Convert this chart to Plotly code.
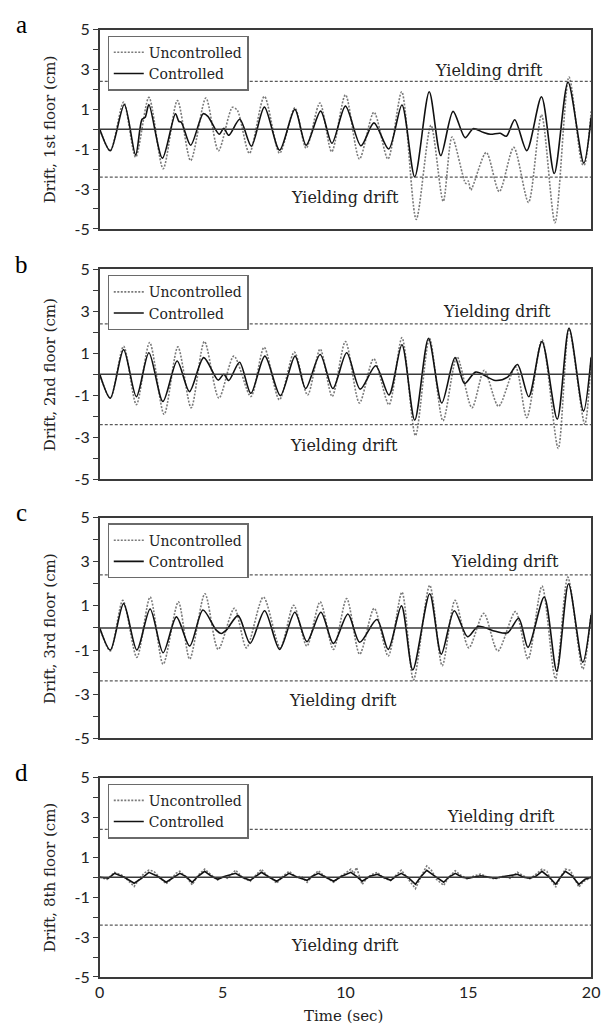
import plotly.graph_objects as go

# ---------------- data: inter-storey drift (cm) vs time (s) ----------------
YIELD_DRIFT = 2.4
PANEL_LETTERS = ["a", "b", "c", "d"]
FLOOR_TITLES = ["Drift, 1st floor (cm)", "Drift, 2nd floor (cm)",
                "Drift, 3rd floor (cm)", "Drift, 8th floor (cm)"]
SERIES_NAMES = ["Uncontrolled", "Controlled"]
X_TICKS = [0, 5, 10, 15, 20]
Y_TICK_LABELS = ["-5", "-3", "-1", "1", "3", "5"]

# 1st floor
t1_unc = [0, 0.43, 0.97, 1.46, 2.0, 2.58, 3.16, 3.70, 4.32, 4.83, 5.40, 5.60, 6.09, 6.70,
          7.32, 7.94, 8.40, 8.96, 9.44, 10.0, 10.57, 11.16, 11.73, 12.29, 12.88, 13.48,
          13.98, 14.34, 14.90, 15.00, 15.10, 15.73, 16.26, 16.85, 17.45, 17.98, 18.53,
          19.10, 19.63, 19.72, 20.0]
d1_unc = [0, -1.08, 1.36, -1.40, 1.60, -1.98, 1.44, -1.57, 1.57, -1.08, 1.10, 0.95, -1.21,
          1.65, -1.20, 1.08, -0.95, 1.32, -1.13, 1.73, -1.49, 0.86, -1.49, 1.88, -4.52, 0.20,
          -3.62, -0.39, -2.72, -2.60, -3.05, -1.16, -3.13, -0.91, -3.67, 0.73, -4.69,
          2.62, -1.73, -1.80, 0.9]
t1_con = [0, 0.43, 1.0, 1.46, 1.72, 1.85, 2.0, 2.55, 3.08, 3.22, 3.32, 3.70, 4.21, 4.40,
          4.86, 5.05, 5.25, 5.70, 6.17, 6.70, 7.32, 7.94, 8.40, 8.99, 9.45, 10.0, 10.63,
          11.16, 11.76, 12.30, 12.82, 13.41, 13.88, 14.38, 14.87, 15.2, 15.6, 15.9, 16.3,
          16.55, 16.89, 17.38, 17.98, 18.50, 19.06, 19.70, 20.0]
d1_con = [0, -1.08, 1.24, -1.29, 0.50, 0.60, 1.24, -1.45, 0.78, 0.40, 0.35, -0.80, 0.78,
          0.65, -0.25, 0.05, -0.30, 0.50, -0.85, 1.11, -1.05, 1.00, -0.80, 0.91, -0.70,
          1.16, -0.83, 0.32, -0.99, 1.22, -2.39, 1.88, -1.32, 0.90, -0.42, 0.03, -0.15,
          -0.25, -0.20, -0.35, 0.48, -1.07, 1.63, -2.22, 2.37, -1.70, 0.6]

# 2nd floor
t2_unc = [0, 0.43, 0.97, 1.49, 2.03, 2.62, 3.18, 3.72, 4.26, 4.85, 5.46, 6.15, 6.69, 7.31,
          7.92, 8.46, 8.97, 9.46, 10.0, 10.57, 11.15, 11.77, 12.30, 12.85, 13.42, 13.97,
          14.54, 15.15, 15.65, 16.23, 16.92, 17.38, 18.0, 18.66, 19.10, 19.74, 20.0]
d2_unc = [0, -1.14, 1.33, -1.45, 1.51, -1.91, 1.30, -1.60, 1.56, -1.14, 0.86, -1.06, 1.28,
          -1.22, 1.05, -0.99, 1.20, -1.06, 1.56, -1.37, 0.74, -1.45, 1.74, -2.92, 1.71,
          -2.22, 0.82, -1.60, 0.19, -1.53, 0.35, -2.07, 1.64, -3.53, 2.15, -2.38, 0.86]
t2_con = [0, 0.43, 0.97, 1.49, 2.0, 2.57, 3.15, 3.65, 4.23, 4.82, 5.05, 5.25, 5.69, 6.15,
          6.72, 7.35, 7.95, 8.38, 8.97, 9.49, 10.05, 10.6, 11.23, 11.77, 12.30, 12.82,
          13.38, 13.92, 14.46, 14.85, 15.3, 16.1, 16.6, 17.0, 17.46, 18.0, 18.62, 19.10,
          19.69, 20.0]
d2_con = [0, -1.14, 1.17, -1.07, 1.02, -1.30, 0.63, -0.83, 0.79, -0.28, 0.0, -0.30, 0.57,
          -0.91, 0.86, -1.02, 0.86, -0.68, 0.94, -0.68, 1.02, -0.71, 0.40, -0.99, 1.40,
          -2.19, 1.71, -1.37, 0.79, -0.45, 0.10, -0.30, -0.14, 0.46, -1.07, 1.56, -2.14,
          2.20, -1.76, 0.8]

# 3rd floor
t3_unc = [0, 0.43, 0.94, 1.51, 2.05, 2.58, 3.20, 3.66, 4.28, 4.82, 5.48, 5.97, 6.66, 7.35,
          7.89, 8.43, 8.97, 9.51, 10.05, 10.58, 11.17, 11.74, 12.30, 12.77, 13.43, 13.94,
          14.46, 15.02, 15.63, 16.20, 16.92, 17.43, 18.0, 18.55, 19.05, 19.66, 20.0]
d3_unc = [0, -1.04, 1.25, -1.33, 1.40, -1.64, 1.18, -1.41, 1.55, -0.97, 0.89, -0.90, 1.40,
          -0.90, 1.03, -0.82, 1.18, -0.97, 1.33, -1.19, 0.89, -1.27, 1.62, -2.35, 1.93,
          -1.71, 1.25, -0.90, 0.66, -1.04, 0.74, -1.41, 1.90, -2.30, 2.30, -1.86, 0.67]
t3_con = [0, 0.43, 0.97, 1.51, 2.05, 2.58, 3.12, 3.66, 4.20, 4.74, 4.95, 5.15, 5.63, 6.12,
          6.71, 7.32, 7.94, 8.43, 9.0, 9.51, 10.1, 10.58, 11.28, 11.74, 12.28, 12.74,
          13.43, 13.90, 14.43, 14.97, 15.4, 16.1, 16.6, 17.05, 17.43, 18.09, 18.60, 19.08,
          19.66, 20.0]
d3_con = [0, -1.0, 1.10, -1.0, 0.86, -1.12, 0.50, -0.82, 0.81, -0.10, -0.25, -0.10, 0.56,
          -0.70, 0.78, -0.97, 0.71, -0.62, 0.71, -0.70, 0.63, -0.65, 0.38, -0.97, 1.0,
          -1.90, 1.55, -1.19, 0.78, -0.40, 0.07, -0.15, -0.22, 0.44, -0.88, 1.40, -1.96,
          2.0, -1.56, 0.6]

# 8th floor
t8_unc = [0, 0.3, 0.6, 0.9, 1.1, 1.4, 1.6, 1.8, 2.0, 2.2, 2.4, 2.7, 2.9, 3.1, 3.26, 3.45,
          3.6, 3.76, 4.0, 4.27, 4.45, 4.6, 4.8, 5.0, 5.2, 5.53, 5.8, 6.12, 6.35, 6.58, 6.8,
          7.0, 7.2, 7.45, 7.7, 8.0, 8.2, 8.44, 8.65, 8.9, 9.1, 9.3, 9.52, 9.8, 10.0, 10.22,
          10.35, 10.45, 10.68, 10.9, 11.1, 11.3, 11.5, 11.84, 12.05, 12.27, 12.5, 12.85,
          13.1, 13.31, 13.5, 13.7, 14.0, 14.2, 14.47, 14.7, 14.95, 15.2, 15.5, 15.8, 16.1,
          16.4, 16.7, 17.0, 17.2, 17.5, 17.7, 18.0, 18.2, 18.35, 18.56, 18.75, 18.95,
          19.15, 19.3, 19.5, 19.7, 20.0]
d8_unc = [0, -0.1, 0.25, 0.1, -0.1, -0.46, -0.1, 0.2, 0.36, 0.3, 0.05, -0.33, -0.1, 0.2,
          0.3, 0.1, -0.1, -0.38, 0.1, 0.41, 0.2, 0.05, -0.13, 0.05, -0.05, 0.36, 0.0, -0.2,
          0.1, 0.41, 0.1, -0.05, -0.3, 0.05, 0.3, 0.0, 0.05, -0.25, 0.05, 0.33, 0.1, -0.05,
          -0.25, 0.05, 0.2, 0.41, 0.2, 0.49, -0.36, 0.0, 0.15, 0.25, 0.0, -0.16, 0.1, 0.36,
          0.0, -0.57, 0.1, 0.57, 0.35, -0.1, -0.41, 0.0, 0.33, 0.1, -0.08, 0.05, 0.16, 0.0,
          -0.08, 0.05, -0.05, 0.25, 0.1, -0.08, 0.1, 0.41, 0.3, -0.1, -0.49, 0.0, 0.41,
          0.35, 0.0, -0.49, -0.2, 0.0]
t8_con = [0, 0.35, 0.6, 1.0, 1.4, 1.7, 2.0, 2.35, 2.7, 3.0, 3.26, 3.5, 3.76, 4.0, 4.27,
          4.55, 4.8, 5.1, 5.53, 5.8, 6.12, 6.35, 6.58, 6.9, 7.2, 7.45, 7.7, 8.05, 8.44,
          8.65, 8.9, 9.2, 9.52, 9.85, 10.22, 10.45, 10.68, 11.0, 11.3, 11.55, 11.84, 12.05,
          12.27, 12.55, 12.85, 13.05, 13.31, 13.65, 14.0, 14.2, 14.47, 14.75, 15.0, 15.5,
          15.8, 16.1, 16.5, 17.0, 17.25, 17.5, 17.75, 18.0, 18.3, 18.56, 18.75, 18.95,
          19.2, 19.5, 19.75, 20.0]
d8_con = [0, -0.05, 0.2, 0.0, -0.3, -0.05, 0.25, 0.05, -0.25, 0.0, 0.2, 0.05, -0.25,
          0.05, 0.3, 0.05, -0.1, 0.05, 0.2, 0.0, -0.15, 0.05, 0.25, 0.0, -0.2, 0.0, 0.2,
          0.0, -0.15, 0.05, 0.2, 0.0, -0.2, 0.05, 0.25, 0.05, -0.2, 0.05, 0.15, 0.0,
          -0.15, 0.05, 0.2, 0.0, -0.35, 0.0, 0.35, 0.05, -0.25, 0.0, 0.2, 0.0, -0.05, 0.08,
          0.0, -0.05, 0.05, 0.15, 0.0, -0.05, 0.05, 0.3, 0.0, -0.35, 0.0, 0.3, 0.1, -0.35,
          -0.1, 0.0]

panels = [
    (t1_unc, d1_unc, t1_con, d1_con),
    (t2_unc, d2_unc, t2_con, d2_con),
    (t3_unc, d3_unc, t3_con, d3_con),
    (t8_unc, d8_unc, t8_con, d8_con),
]

# ---------------- layout geometry (pixels) ----------------
W, H = 606, 1036
X_LEFT, X_RIGHT = 97, 600
PANEL_PX = [(20, 223), (264, 478), (517, 742), (782, 985)]  # top, bottom

def px_x(px):
    return px / W

def px_y(py):
    return 1 - py / H

SERIF = "DejaVu Serif"
SANS = "Lato"
INK = "#222222"
AXIS_COL = "#3a3a3a"

fig = go.Figure()
layout = dict(
    width=W, height=H,
    margin=dict(l=0, r=0, t=0, b=0),
    paper_bgcolor="white", plot_bgcolor="white",
    showlegend=True,
    font=dict(family=SERIF, color=INK),
)
shapes = []
annotations = []

# label positions (time, drift) for the "Yielding drift" captions
upper_label = [(15.85, 2.95), (16.15, 3.0), (16.5, 3.0), (16.35, 3.05)]
lower_label = [(10.0, -3.42), (9.95, -3.38), (9.9, -3.3), (10.0, -3.4)]

for i, (tu, du, tc, dc) in enumerate(panels):
    k = "" if i == 0 else str(i + 1)
    xa, ya = "x" + k, "y" + k
    leg = "legend" + k
    shape_kind = "spline" if i < 3 else "linear"

    fig.add_trace(go.Scatter(
        x=tu, y=du, mode="lines", name=SERIES_NAMES[0],
        xaxis=xa, yaxis=ya, legend=leg,
        line=dict(color="#7a7a7a", width=1.6, dash="2px,1.5px", shape=shape_kind,
                  smoothing=0.8),
    ))
    fig.add_trace(go.Scatter(
        x=tc, y=dc, mode="lines", name=SERIES_NAMES[1],
        xaxis=xa, yaxis=ya, legend=leg,
        line=dict(color="#111111", width=1.6, shape=shape_kind, smoothing=0.8),
    ))

    top, bot = PANEL_PX[i]
    last = i == 3
    layout["xaxis" + k] = dict(
        domain=[px_x(X_LEFT), px_x(X_RIGHT)], anchor=ya, range=[0, 20],
        showgrid=False, zeroline=False, showline=True, mirror=True,
        linecolor=AXIS_COL, linewidth=1.5, ticks="",
        tickmode="array", tickvals=X_TICKS, ticktext=[str(v) for v in X_TICKS],
        showticklabels=last, ticklabeloverflow="allow",
        tickfont=dict(family=SANS, size=16, color=INK),
    )
    layout["yaxis" + k] = dict(
        domain=[px_y(bot), px_y(top)], anchor=xa, range=[-5, 5],
        showgrid=False, zeroline=False, showline=True, mirror=True,
        linecolor=AXIS_COL, linewidth=1.5,
        tickmode="array", tickvals=[int(s) for s in Y_TICK_LABELS], ticktext=Y_TICK_LABELS,
        ticks="outside", ticklen=5, tickwidth=1.2, tickcolor=AXIS_COL,
        minor=dict(tickmode="linear", tick0=0, dtick=1, ticks="outside", ticklen=5,
                   tickwidth=1.2, tickcolor=AXIS_COL),
        tickfont=dict(family=SANS, size=16, color=INK),
    )
    layout[leg] = dict(
        x=px_x(105), y=px_y(top + 6), xanchor="left", yanchor="top",
        bgcolor="white", bordercolor="#6a6a6a", borderwidth=1.2,
        font=dict(family=SERIF, size=14, color=INK),
        tracegroupgap=0, itemwidth=30,
    )

    # zero line and yield-drift limits
    shapes.append(dict(type="line", xref=xa + " domain", yref=ya, x0=0, x1=1, y0=0, y1=0,
                       line=dict(color="#3a3a3a", width=1.6)))
    for s in (1, -1):
        shapes.append(dict(type="line", xref=xa + " domain", yref=ya, x0=0, x1=1,
                           y0=s * YIELD_DRIFT, y1=s * YIELD_DRIFT,
                           line=dict(color="#5a5a5a", width=1.3, dash="3px,2px")))

    for (lx, ly) in (upper_label[i], lower_label[i]):
        annotations.append(dict(xref=xa, yref=ya, x=lx, y=ly, text="Yielding drift",
                                xanchor="center", yanchor="middle", showarrow=False,
                                font=dict(family=SERIF, size=16, color=INK)))

    # y-axis title and panel letter
    annotations.append(dict(xref="paper", yref="paper", x=px_x(46),
                            y=px_y((top + bot) / 2), text=FLOOR_TITLES[i], textangle=-90,
                            xanchor="center", yanchor="middle", showarrow=False,
                            font=dict(family=SERIF, size=15, color=INK)))
    annotations.append(dict(xref="paper", yref="paper", x=px_x(17), y=px_y(top - 5),
                            text=PANEL_LETTERS[i], xanchor="center", yanchor="middle",
                            showarrow=False,
                            font=dict(family="Liberation Serif", size=25, color="#000")))

annotations.append(dict(xref="paper", yref="paper", x=px_x(347), y=px_y(1025),
                        text="Time (sec)", xanchor="center", yanchor="middle",
                        showarrow=False, font=dict(family=SERIF, size=15, color=INK)))

layout["shapes"] = shapes
layout["annotations"] = annotations
fig.update_layout(**layout)
fig.write_html("out.html")
